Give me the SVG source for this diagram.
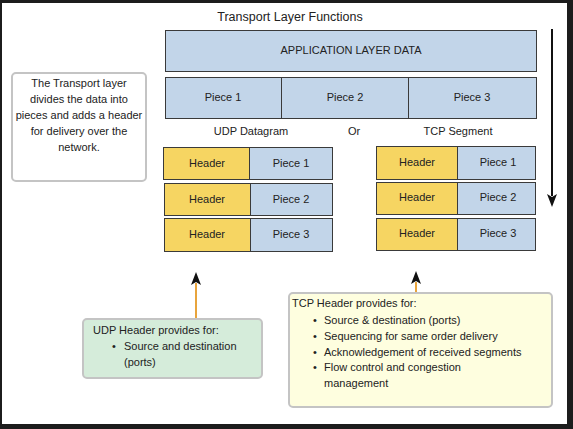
<svg xmlns="http://www.w3.org/2000/svg" width="573" height="429" viewBox="0 0 573 429">
<style>
text{font-family:"Liberation Sans",Arial,sans-serif;font-size:11px;fill:#222}
.c{text-anchor:middle}
.blue{fill:#c2d5e9;stroke:#3a3a3a;stroke-width:1}
.yel{fill:#f6d562;stroke:#3a3a3a;stroke-width:1}
.note{stroke:#c4c4c4;stroke-width:2}
.ptr{stroke:#e8a43c;stroke-width:2;fill:none}
</style>
<defs>
<marker id="ah" viewBox="0 0 13 10" refX="2" refY="5" markerWidth="13" markerHeight="10" markerUnits="userSpaceOnUse" orient="auto">
<path d="M13 5 L0 0 L3 5 L0 10 Z" fill="#111"/>
</marker>
</defs>
<rect x="0" y="0" width="573" height="429" fill="#1c1c1c"/>
<rect x="2" y="3" width="565" height="421" fill="#ffffff"/>

<text x="290" y="21" class="c" style="font-size:12.5px">Transport Layer Functions</text>

<g id="app-data">
<rect class="blue" x="165.5" y="30.5" width="371" height="41"/>
<text x="351" y="54" class="c">APPLICATION LAYER DATA</text>
</g>

<g id="pieces">
<rect class="blue" x="165.5" y="77.5" width="371" height="41"/>
<line x1="281.5" y1="77.5" x2="281.5" y2="118.5" stroke="#3a3a3a"/>
<line x1="408.5" y1="77.5" x2="408.5" y2="118.5" stroke="#3a3a3a"/>
<text x="223" y="101" class="c">Piece 1</text>
<text x="345" y="101" class="c">Piece 2</text>
<text x="472" y="101" class="c">Piece 3</text>
</g>

<text x="251" y="135" class="c">UDP Datagram</text>
<text x="354" y="135" class="c">Or</text>
<text x="458" y="135" class="c">TCP Segment</text>

<g id="info">
<rect class="note" x="12" y="73" width="134" height="108" rx="4" fill="#fff"/>
<text x="79" y="87" class="c">The Transport layer</text>
<text x="79" y="103" class="c">divides the data into</text>
<text x="79" y="119" class="c">pieces and adds a header</text>
<text x="79" y="135" class="c">for delivery over the</text>
<text x="79" y="151" class="c">network.</text>
</g>

<g id="udp-1">
<rect class="yel" x="163.5" y="147.5" width="86" height="32"/>
<rect class="blue" x="249.5" y="147.5" width="83" height="32"/>
<text x="207" y="167" class="c">Header</text>
<text x="291" y="167" class="c">Piece 1</text>
</g>
<g id="udp-2">
<rect class="yel" x="164.5" y="183.5" width="86" height="32"/>
<rect class="blue" x="250.5" y="183.5" width="82" height="32"/>
<text x="207" y="203" class="c">Header</text>
<text x="291" y="203" class="c">Piece 2</text>
</g>
<g id="udp-3">
<rect class="yel" x="164.5" y="218.5" width="86" height="33"/>
<rect class="blue" x="250.5" y="218.5" width="82" height="33"/>
<text x="207" y="238" class="c">Header</text>
<text x="291" y="238" class="c">Piece 3</text>
</g>

<g id="tcp-1">
<rect class="yel" x="376.5" y="146.5" width="81" height="33"/>
<rect class="blue" x="457.5" y="146.5" width="78" height="33"/>
<text x="417" y="166" class="c">Header</text>
<text x="498" y="166" class="c">Piece 1</text>
</g>
<g id="tcp-2">
<rect class="yel" x="376.5" y="182.5" width="81" height="32"/>
<rect class="blue" x="457.5" y="182.5" width="78" height="32"/>
<text x="417" y="201" class="c">Header</text>
<text x="498" y="201" class="c">Piece 2</text>
</g>
<g id="tcp-3">
<rect class="yel" x="376.5" y="218.5" width="81" height="32"/>
<rect class="blue" x="457.5" y="218.5" width="78" height="32"/>
<text x="417" y="237" class="c">Header</text>
<text x="498" y="237" class="c">Piece 3</text>
</g>

<g id="connectors">
<line x1="552" y1="29" x2="552" y2="196" stroke="#111" stroke-width="2" marker-end="url(#ah)"/>
<line class="ptr" x1="196" y1="319" x2="196" y2="283" marker-end="url(#ah)"/>
<line class="ptr" x1="416" y1="293" x2="416" y2="282" marker-end="url(#ah)"/>
</g>

<g id="udp-note">
<rect class="note" x="83" y="319" width="179" height="59" rx="4" fill="#d5ecda"/>
<text x="93" y="334">UDP Header provides for:</text>
<text x="112" y="350">•</text>
<text x="124" y="350">Source and destination</text>
<text x="124" y="366">(ports)</text>
</g>

<g id="tcp-note">
<rect class="note" x="289" y="293" width="263" height="114" rx="4" fill="#fefedf"/>
<text x="292" y="307">TCP Header provides for:</text>
<text x="313" y="324">•</text>
<text x="324" y="324">Source &amp; destination (ports)</text>
<text x="313" y="340">•</text>
<text x="324" y="340">Sequencing for same order delivery</text>
<text x="313" y="356">•</text>
<text x="324" y="356">Acknowledgement of received segments</text>
<text x="313" y="371">•</text>
<text x="324" y="371">Flow control and congestion</text>
<text x="324" y="387">management</text>
</g>
</svg>
